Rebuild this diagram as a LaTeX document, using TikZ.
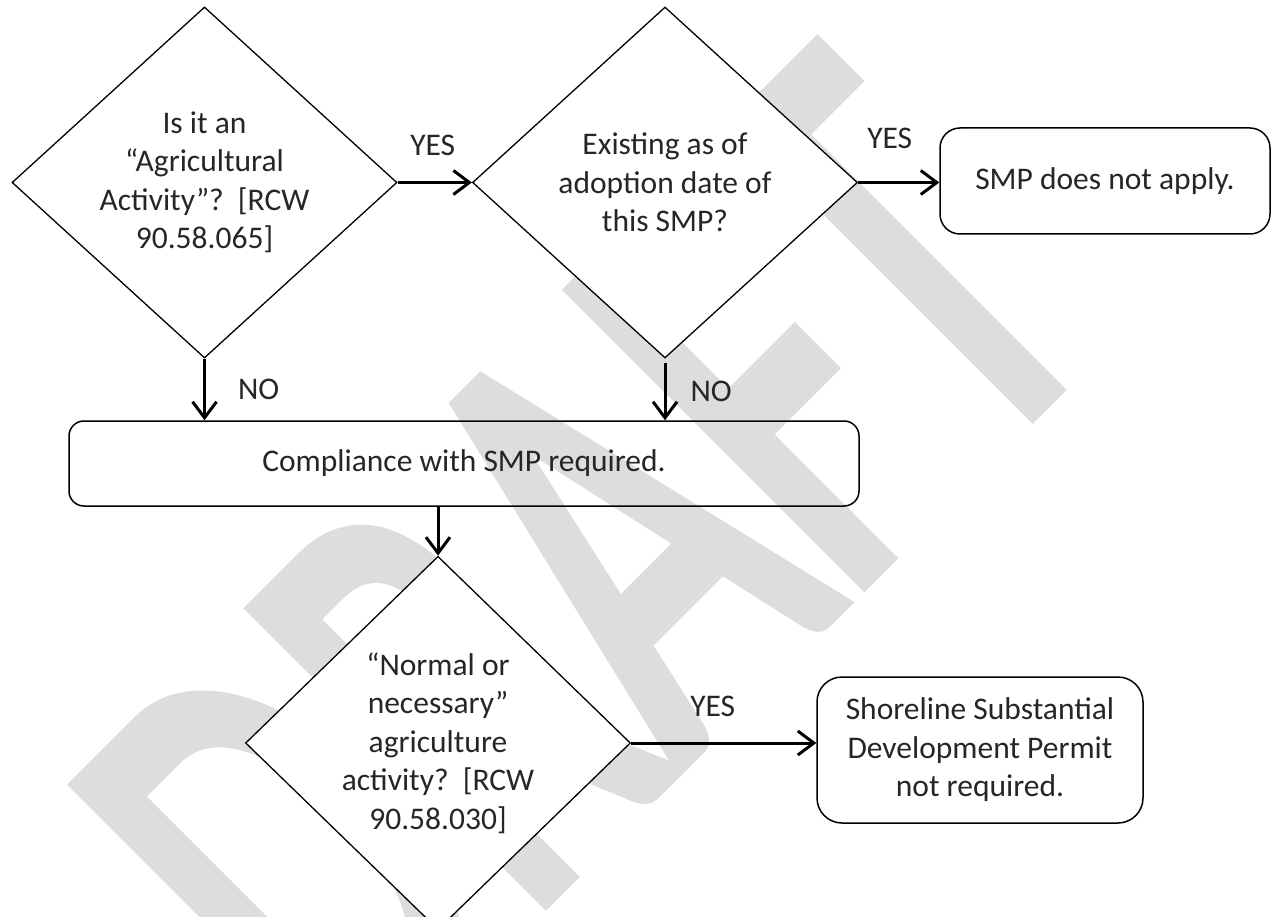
\documentclass[tikz,border=0pt]{standalone}
\usepackage{fontspec}
\setmainfont{Carlito}
\newfontfamily\wmfont{Carlito}[FakeBold=3]
\usetikzlibrary{arrows.meta,shapes.geometric}
\definecolor{wmgray}{HTML}{DDDDDD}
\definecolor{txtgray}{HTML}{262626}

\begin{document}
\begin{tikzpicture}[x=1pt,y=-1pt,
        font=\fontsize{31.5}{38.5}\selectfont,text=txtgray,
        decision/.style={diamond,draw,fill=white,line width=1.3pt,inner sep=0pt,
            align=center,minimum width=385pt,minimum height=351pt},
        outcome/.style={rectangle,draw,line width=1.5pt,inner sep=0pt,
            align=center,rounded corners=20pt},
        arr/.style={-{Straight Barb[length=16pt,width=24pt]},line width=3pt},
        lbl/.style={inner sep=0pt}]

\useasboundingbox (0,0) rectangle (1272,917);

% watermark behind everything
\node[anchor=base,rotate=45,text=wmgray,inner sep=0pt,
    font=\wmfont\fontsize{403}{403}\selectfont] (draft) at (730,713)
    {\scalebox{1}[1.58]{DRAFT}};

% decisions
\node[decision] (agri) at (204.5,182.5)
    {Is it an\\“Agricultural\\Activity”?\ \ [RCW\\90.58.065]};
\node[decision] (exist) at (665,182.5)
    {Existing as of\\adoption date of\\this SMP?};
\node[decision,minimum height=350pt] (normal) at (438,743)
    {“Normal or\\necessary”\\agriculture\\activity?\ \ [RCW\\90.58.030]};

% outcomes
\node[outcome,minimum width=330pt,minimum height=106pt] (noapply) at (1105,181)
    {SMP does not apply.};
\node[outcome,rounded corners=15pt,minimum width=790pt,minimum height=85pt]
    (comply) at (464,463.5) {Compliance with SMP required.};
\node[outcome,rounded corners=25pt,minimum width=326pt,minimum height=146pt]
    (permit) at (980,750)
    {Shoreline Substantial\\Development Permit\\not required.};

% connectors
\draw[arr] (agri.east) -- node[lbl,above=25pt,xshift=-2pt] (yes1) {YES} (exist.west);
\draw[arr] (exist.east) -- node[lbl,above=32pt,xshift=-9pt] (yes2) {YES} (exist.east -| noapply.west);
\draw[arr] (agri.south) -- node[lbl,right=32pt] (no1) {NO} (agri.south |- comply.north);
\draw[arr] ([yshift=-4pt]exist.south) -- node[lbl,right=24pt] (no2) {NO} (exist.south |- comply.north);
\draw[arr] (normal.north |- comply.south) -- (normal.north);
\draw[arr] (normal.east) -- node[lbl,above=25pt,xshift=-11pt] (yes3) {YES} (normal.east -| permit.west);
\end{tikzpicture}
\end{document}
